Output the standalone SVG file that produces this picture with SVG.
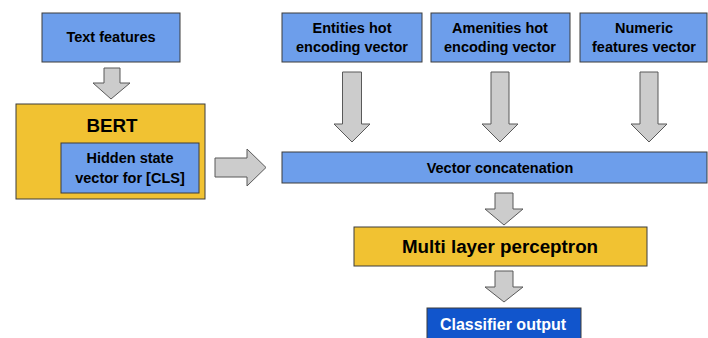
<svg xmlns="http://www.w3.org/2000/svg" width="708" height="338" viewBox="0 0 708 338">
  <style>
    .blue { fill: #6d9eeb; stroke: #3c3c3c; stroke-width: 1; }
    .yellow { fill: #f1c232; stroke: #3c3c3c; stroke-width: 1; }
    .dark { fill: #1155cc; stroke: #3c3c3c; stroke-width: 1; }
    .arrow { fill: #cccccc; stroke: #595959; stroke-width: 1; stroke-linejoin: miter; }
    text { font-family: "Liberation Sans", Arial, sans-serif; font-weight: bold; text-anchor: middle; fill: #000; }
    .s { font-size: 14.5px; }
    .l { font-size: 18.8px; }
    .w { font-size: 16px; fill: #ffffff; }
  </style>

  <rect width="708" height="338" fill="#ffffff"/>

  <!-- block arrows -->
  <g id="connectors">
    <polygon class="arrow" points="104,68 120,68 120,83 130,83 111,99 93,83 104,83"/>
    <polygon class="arrow" points="215,158 247,158 247,149 266,167.5 247,186 247,177 215,177"/>
    <polygon class="arrow" points="342.5,72 361.5,72 361.5,124 370,124 352,142 334,124 342.5,124"/>
    <polygon class="arrow" points="491,72 509,72 509,124 518,124 500,142 482,124 491,124"/>
    <polygon class="arrow" points="640,72 658,72 658,124 667,124 649,142 631,124 640,124"/>
    <polygon class="arrow" points="495,193 513,193 513,209 523,209 504,225 485,209 495,209"/>
    <polygon class="arrow" points="495,271 513,271 513,287 523,287 504,302 485,287 495,287"/>
  </g>

  <g id="text-features">
    <rect class="blue" x="42" y="13" width="138" height="49"/>
    <text class="s" x="111" y="42">Text features</text>
  </g>

  <g id="bert">
    <rect class="yellow" x="16" y="104" width="189" height="95"/>
    <text class="l" x="112" y="132">BERT</text>
  </g>

  <g id="hidden-state">
    <rect class="blue" x="61" y="143" width="138" height="50"/>
    <text class="s" x="130" y="163">Hidden state</text>
    <text class="s" x="130" y="183">vector for [CLS]</text>
  </g>

  <g id="entities">
    <rect class="blue" x="282" y="13" width="140" height="49"/>
    <text class="s" x="352" y="33">Entities hot</text>
    <text class="s" x="352" y="52">encoding vector</text>
  </g>

  <g id="amenities">
    <rect class="blue" x="431" y="13" width="139" height="49"/>
    <text class="s" x="500" y="33">Amenities hot</text>
    <text class="s" x="500" y="52">encoding vector</text>
  </g>

  <g id="numeric">
    <rect class="blue" x="580" y="13" width="127" height="49"/>
    <text class="s" x="644" y="33">Numeric</text>
    <text class="s" x="644" y="52">features vector</text>
  </g>

  <g id="concatenation">
    <rect class="blue" x="282" y="152" width="425" height="31"/>
    <text class="s" x="500" y="173">Vector concatenation</text>
  </g>

  <g id="mlp">
    <rect class="yellow" x="354" y="227" width="293" height="39"/>
    <text class="l" x="500" y="253">Multi layer perceptron</text>
  </g>

  <g id="classifier">
    <rect class="dark" x="427" y="308" width="154" height="35"/>
    <text class="w" x="503" y="330">Classifier output</text>
  </g>
</svg>
